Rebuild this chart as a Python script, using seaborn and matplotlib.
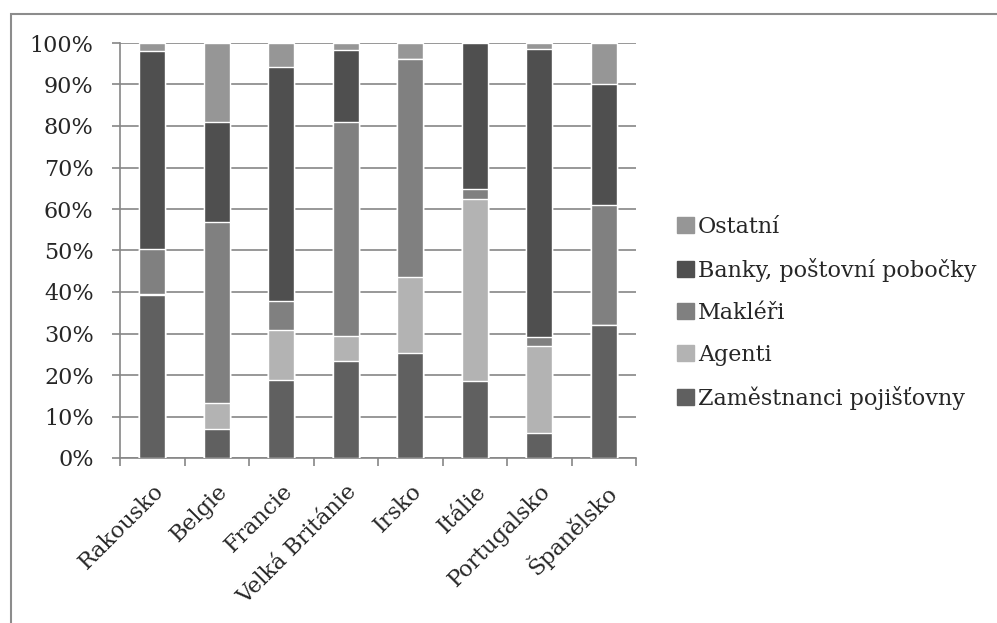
import matplotlib
matplotlib.use("Agg")
import matplotlib.pyplot as plt
import matplotlib.patches as mpatches
import numpy as np
import pandas as pd
import seaborn as sns

# === DATA (podíly v %) ===
zeme = ["Rakousko", "Belgie", "Francie", "Velká Británie", "Irsko", "Itálie", "Portugalsko", "Španělsko"]
zamestnanci = [39.2, 7.1, 18.9, 23.3, 25.3, 18.5, 6.0, 32.0]
agenti = [0.3, 6.1, 12.0, 6.0, 18.2, 44.0, 21.1, 0.0]
makleri = [10.9, 43.6, 7.0, 51.7, 52.6, 2.2, 2.0, 29.0]
banky = [47.6, 24.2, 56.2, 17.2, 0.0, 35.3, 69.5, 29.1]
ostatni = [2.0, 18.9, 5.9, 1.8, 3.9, 0.0, 1.4, 9.9]

serie = ["Zaměstnanci pojišťovny", "Agenti", "Makléři", "Banky, poštovní pobočky", "Ostatní"]
barvy = ["#606060", "#b3b3b3", "#808080", "#4f4f4f", "#969696"]

df = pd.DataFrame({
    "zeme": zeme,
    serie[0]: zamestnanci,
    serie[1]: agenti,
    serie[2]: makleri,
    serie[3]: banky,
    serie[4]: ostatni,
})
cum = df[serie].cumsum(axis=1)
tot = cum[serie[-1]].values
cum = cum.div(tot, axis=0) * 100  # 100% stacked

sns.set_style("white")
plt.rcParams["font.family"] = ["DejaVu Serif", "DejaVu Sans"]
FS = 16

fig = plt.figure(figsize=(9.97, 6.23), dpi=100)
W, H = 997, 623
ax = fig.add_axes([120 / W, (H - 458) / H, (636 - 120) / W, (458 - 43) / H])

# stacked bars: draw cumulative totals from the top layer down
for s, c in zip(serie[::-1], barvy[::-1]):
    sns.barplot(x=df["zeme"], y=cum[s], color=c, width=0.4, ax=ax,
                saturation=1, zorder=3)

ax.set_ylim(0, 100)
ax.set_xlim(-0.5, len(zeme) - 0.5)
ax.set_yticks(np.arange(0, 101, 10))
ax.set_yticklabels([f"{v}%" for v in range(0, 101, 10)], fontsize=FS)
ax.set_xticks(range(len(zeme)))
ax.set_xticklabels(zeme, fontsize=FS, rotation=45, ha="right", rotation_mode="anchor")
ax.set_xticks(np.arange(-0.5, len(zeme)), minor=True)
ax.set_xlabel("")
ax.set_ylabel("")

gcol = "#868686"
ax.grid(axis="y", color=gcol, linewidth=1.2, zorder=0)
ax.set_axisbelow(True)
for sp in ["top", "right"]:
    ax.spines[sp].set_visible(False)
for sp in ["left", "bottom"]:
    ax.spines[sp].set_color(gcol)
    ax.spines[sp].set_linewidth(1.2)
ax.tick_params(axis="y", which="major", length=6, width=1.2, color=gcol, pad=13, direction="out", left=True)
ax.tick_params(axis="x", which="major", length=0, pad=16)
ax.tick_params(axis="x", which="minor", length=6, width=1.2, color=gcol, direction="out", bottom=True)

handles = [mpatches.Patch(color=c, label=s) for s, c in zip(serie[::-1], barvy[::-1])]
fig.legend(handles=handles, loc="center left", bbox_to_anchor=(657 / W, 1 - 313 / H),
           frameon=False, fontsize=FS, handlelength=0.75, handleheight=0.75,
           handletextpad=0.2, labelspacing=0.9)

# outer chart-area frame (only top and left edges fall inside the picture)
fig.patches.append(mpatches.Rectangle((11 / W, -0.1), 1.2, 1 - 14 / H + 0.1,
                                      transform=fig.transFigure, fill=False,
                                      edgecolor="#8c8c8c", linewidth=1.5))

fig.savefig("out.png", dpi=100)
